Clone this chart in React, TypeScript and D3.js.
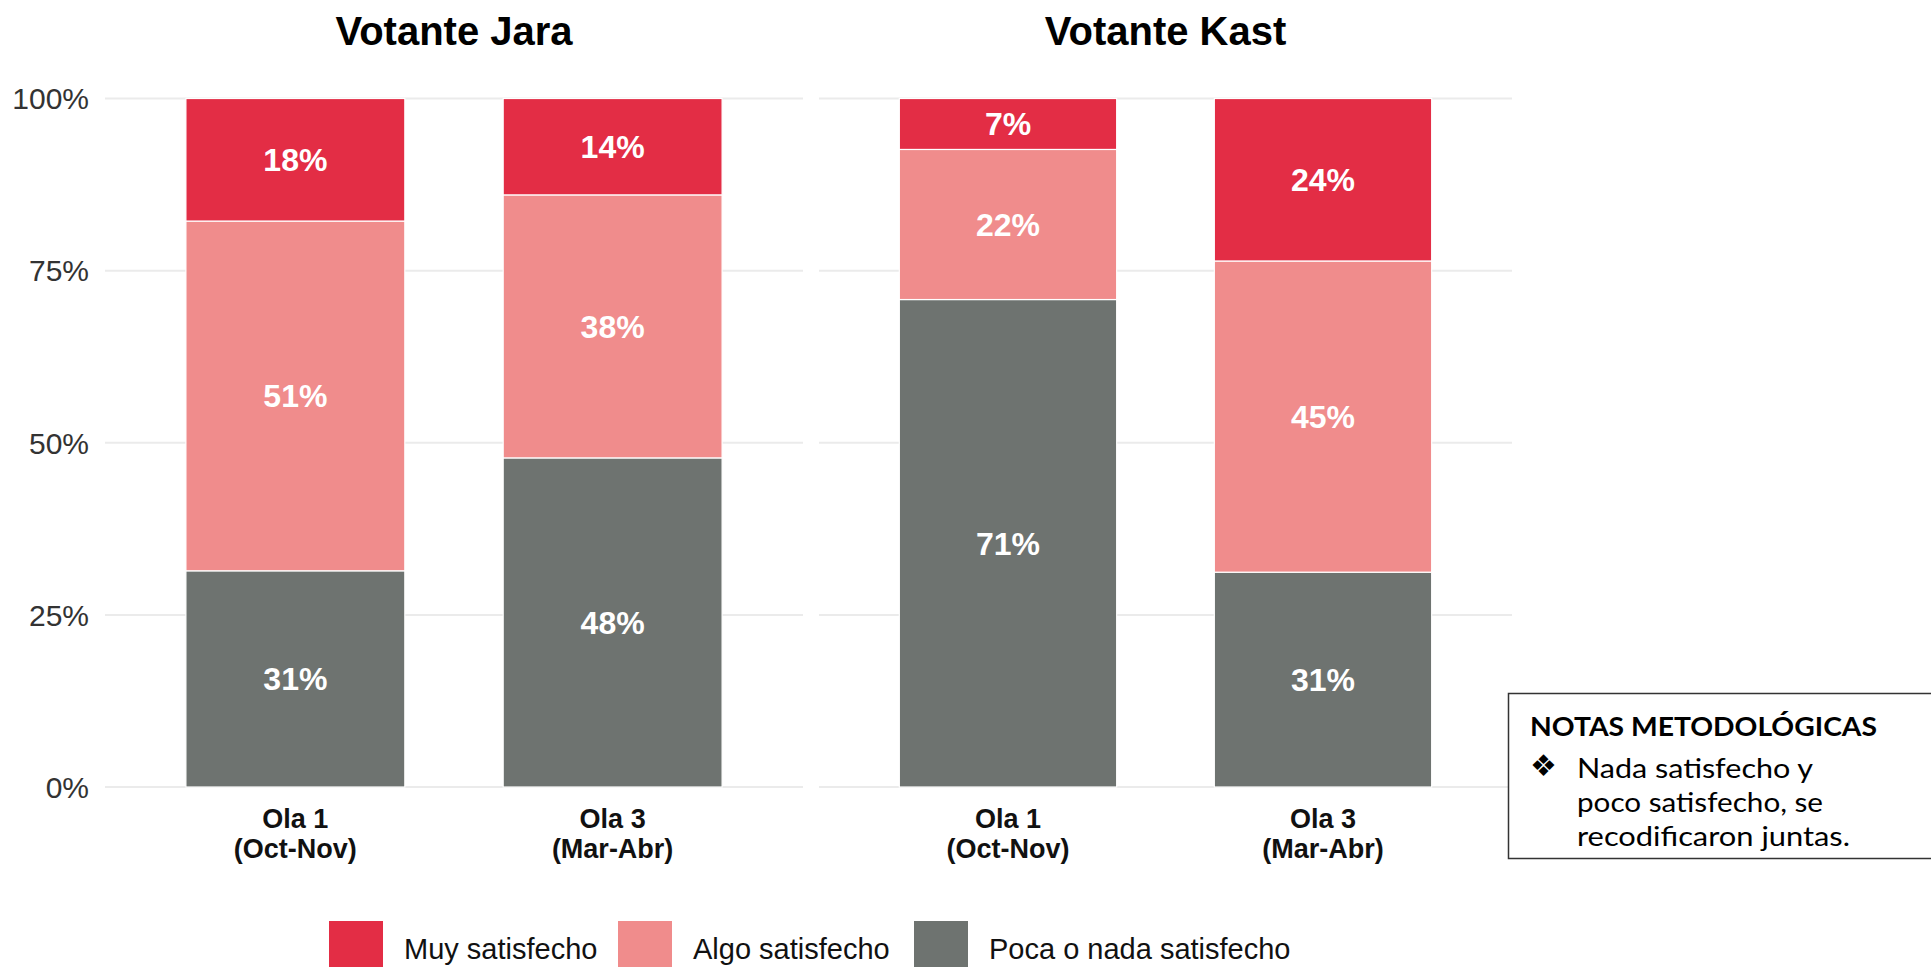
import React from "react";
import * as d3 from "d3";

// ---- data ----
const panelTitles = ["Votante Jara", "Votante Kast"];
const waveLine1 = ["Ola 1", "Ola 3"];
const waveLine2 = ["(Oct-Nov)", "(Mar-Abr)"];
const waveKeys = ["ola1", "ola3"];
// stack order: bottom -> top
const categories = ["Poca o nada satisfecho", "Algo satisfecho", "Muy satisfecho"];
const legendOrder = ["Muy satisfecho", "Algo satisfecho", "Poca o nada satisfecho"];
const colors = ["#6E7370", "#F08C8C", "#E32D45"];

const jaraPoca = [31.4, 47.8];
const jaraAlgo = [50.8, 38.2];
const jaraMuy = [17.8, 14.0];
const kastPoca = [70.8, 31.2];
const kastAlgo = [21.8, 45.2];
const kastMuy = [7.4, 23.6];

const yTicks = [0, 0.25, 0.5, 0.75, 1];

const noteTitle = "NOTAS METODOLÓGICAS";
const noteLines = ["Nada satisfecho y", "poco satisfecho, se", "recodificaron juntas."];

// ---- layout ----
const W = 1931;
const H = 967;
const panelRanges: [number, number][] = [
  [105, 803],
  [819, 1512],
];
const yTop = 98.5;
const yBottom = 787;
const sans = "'Liberation Sans', Arial, Helvetica, sans-serif";

function buildRows(poca: number[], algo: number[], muy: number[]) {
  return waveKeys.map((k, i) => ({
    wave: k,
    [categories[0]]: poca[i] / 100,
    [categories[1]]: algo[i] / 100,
    [categories[2]]: muy[i] / 100,
  }));
}

const panelData = [
  buildRows(jaraPoca, jaraAlgo, jaraMuy),
  buildRows(kastPoca, kastAlgo, kastMuy),
];

export default function App() {
  const y = d3.scaleLinear().domain([0, 1]).range([yBottom, yTop]);
  const stack = d3.stack<any>().keys(categories);
  const colorScale = d3.scaleOrdinal<string, string>().domain(categories).range(colors);
  const pctFmt = (v: number) => `${Math.round(v * 100)}%`;

  const legendX = [329, 618, 914];

  return (
    <svg
      width={W}
      height={H}
      style={{ position: "absolute", left: 0, top: 0, display: "block", background: "#fff" }}
    >
      <rect x={0} y={0} width={W} height={H} fill="#fff" />
      {/* y axis labels */}
      {yTicks.map((t) => (
        <text
          key={"yl" + t}
          x={89}
          y={y(t)}
          dy="0.36em"
          textAnchor="end"
          fontFamily={sans}
          fontSize={30}
          fill="#333"
        >
          {d3.format(".0%")(t)}
        </text>
      ))}
      {panelData.map((rows, pi) => {
        const [x0, x1] = panelRanges[pi];
        const x = d3
          .scaleBand<string>()
          .domain(waveKeys)
          .range([x0, x1])
          .paddingInner(0.31)
          .paddingOuter(0.255);
        const series = stack(rows);
        return (
          <g key={"p" + pi}>
            {yTicks.map((t) => (
              <line
                key={"g" + t}
                x1={x0}
                x2={x1}
                y1={y(t)}
                y2={y(t)}
                stroke="#EBEBEB"
                strokeWidth={2}
              />
            ))}
            <text
              x={(x0 + x1) / 2}
              y={45}
              textAnchor="middle"
              fontFamily={sans}
              fontWeight="bold"
              fontSize={40}
              fill="#000"
            >
              {panelTitles[pi]}
            </text>
            {series.map((s) =>
              s.map((d, i) => (
                <rect
                  key={s.key + i}
                  x={x(waveKeys[i])}
                  width={x.bandwidth()}
                  y={y(d[1])}
                  height={y(d[0]) - y(d[1])}
                  fill={colorScale(s.key)}
                  stroke="#fff"
                  strokeWidth={1.2}
                />
              ))
            )}
            {series.map((s) =>
              s.map((d, i) => (
                <text
                  key={"l" + s.key + i}
                  x={(x(waveKeys[i]) as number) + x.bandwidth() / 2}
                  y={y((d[0] + d[1]) / 2)}
                  dy="0.36em"
                  textAnchor="middle"
                  fontFamily={sans}
                  fontWeight="bold"
                  fontSize={32}
                  fill="#fff"
                >
                  {pctFmt(d[1] - d[0])}
                </text>
              ))
            )}
            {waveKeys.map((k, i) => (
              <text
                key={"x" + k}
                textAnchor="middle"
                fontFamily={sans}
                fontWeight="bold"
                fontSize={27}
                fill="#111"
              >
                <tspan x={(x(k) as number) + x.bandwidth() / 2} y={828}>
                  {waveLine1[i]}
                </tspan>
                <tspan x={(x(k) as number) + x.bandwidth() / 2} y={858}>
                  {waveLine2[i]}
                </tspan>
              </text>
            ))}
          </g>
        );
      })}
      {/* legend */}
      {legendOrder.map((name, i) => (
        <g key={"lg" + name} transform={`translate(${legendX[i]},0)`}>
          <rect x={0} y={921} width={54} height={54} fill={colorScale(name)} />
          <text x={75} y={959} fontFamily={sans} fontSize={29} fill="#111">
            {name}
          </text>
        </g>
      ))}
      {/* note box */}
      <rect x={1508.5} y={693.5} width={440} height={165} fill="#fff" stroke="#333" strokeWidth={1.5} />
      <text
        x={1530}
        y={736}
        fontFamily="Lato, 'Open Sans', sans-serif"
        fontWeight="bold"
        fontSize={27}
        fill="#000"
        textLength={347}
        lengthAdjust="spacingAndGlyphs"
      >
        {noteTitle}
      </text>
      <text x={1530} y={776} fontFamily="'DejaVu Sans', sans-serif" fontSize={30} fill="#000">
        ❖
      </text>
      {noteLines.map((line, i) => (
        <text
          key={"n" + i}
          x={1577}
          y={778 + i * 34}
          fontFamily="Lato, 'Open Sans', sans-serif"
          fontSize={26}
          fill="#000"
          textLength={[236, 246, 273][i]}
          lengthAdjust="spacingAndGlyphs"
        >
          {line}
        </text>
      ))}
    </svg>
  );
}
